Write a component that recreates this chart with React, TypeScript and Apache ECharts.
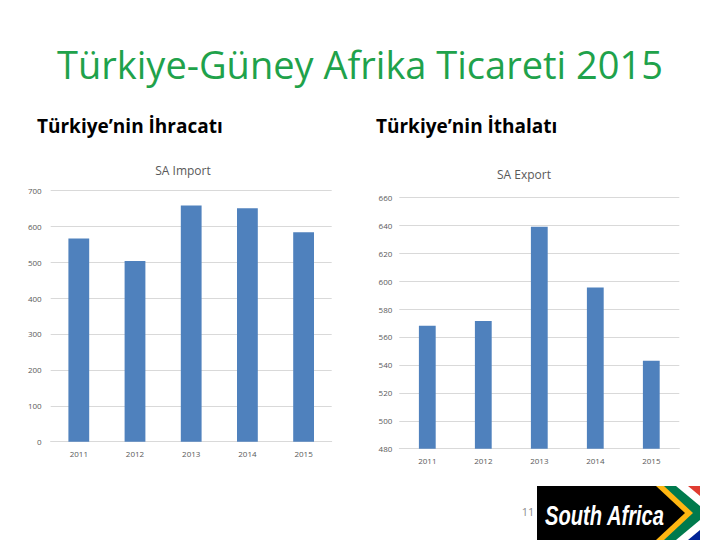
import React, { useEffect, useRef } from "react";
import * as echarts from "echarts";

const years = ["2011", "2012", "2013", "2014", "2015"];
const saImport = [566, 503, 658, 650, 583];
const saExport = [568, 571.5, 639, 595.5, 543];

const mainTitle = "Türkiye-Güney Afrika Ticareti 2015";
const leftHeading = "Türkiye’nin İhracatı";
const rightHeading = "Türkiye’nin İthalatı";
const leftChartTitle = "SA Import";
const rightChartTitle = "SA Export";
const pageNumber = "11";

const BAR = "#4F81BD";
const GRID = "#D9D9D9";
const LABEL = "#595959";

export default function App() {
  const ref = useRef<HTMLDivElement>(null);
  useEffect(() => {
    document.body.style.margin = "0";
    const chart = echarts.init(ref.current!, null, { renderer: "svg" });
    const axisLabel = { fontSize: 8, color: LABEL, fontFamily: "Open Sans" };
    chart.setOption({
      animation: false,
      backgroundColor: "#ffffff",
      title: [
        {
          text: mainTitle,
          left: "center",
          top: 40,
          textStyle: { fontSize: 38, fontWeight: "normal", color: "#1FA24B", fontFamily: "Open Sans" },
        },
        {
          text: leftHeading,
          left: 32,
          top: 111,
          textStyle: { fontSize: 19, fontWeight: "bold", color: "#000", fontFamily: "Open Sans" },
        },
        {
          text: rightHeading,
          left: 371,
          top: 111,
          textStyle: { fontSize: 19, fontWeight: "bold", color: "#000", fontFamily: "Open Sans" },
        },
      ],
      graphic: [
        { type: "text", x: 183, y: 170, style: { text: leftChartTitle, fill: LABEL, fontSize: 12, fontFamily: "Open Sans", align: "center", verticalAlign: "middle" } },
        { type: "text", x: 524, y: 174, style: { text: rightChartTitle, fill: LABEL, fontSize: 12, fontFamily: "Open Sans", align: "center", verticalAlign: "middle" } },
        { type: "text", x: 528, y: 511, style: { text: pageNumber, fill: "#8C8C8C", fontSize: 11, fontFamily: "Open Sans", align: "center", verticalAlign: "middle" } },
        {
          type: "group",
          children: [
            { type: "rect", shape: { x: 537, y: 486, width: 163, height: 54 }, style: { fill: "#ffffff" } },
            { type: "polygon", shape: { points: [[688, 486], [700, 486], [700, 496]] }, style: { fill: "#E03C31" } },
            { type: "polygon", shape: { points: [[688, 540], [700, 540], [700, 530]] }, style: { fill: "#002395" } },
            { type: "polygon", shape: { points: [[537, 486], [676, 486], [700, 506], [700, 520], [676, 540], [537, 540]] }, style: { fill: "#007A4D" } },
            { type: "polygon", shape: { points: [[537, 486], [664, 486], [693, 513], [664, 540], [537, 540]] }, style: { fill: "#FFB612" } },
            { type: "polygon", shape: { points: [[537, 486], [656, 486], [685, 513], [656, 540], [537, 540]] }, style: { fill: "#000000" } },
            {
              type: "text",
              x: 545,
              y: 515,
              scaleX: 0.72,
              style: { text: "South Africa", fill: "#ffffff", fontSize: 28, fontStyle: "italic", fontWeight: "bold", fontFamily: "Liberation Sans Narrow, Liberation Sans", verticalAlign: "middle" },
            },
          ],
        },
      ],
      grid: [
        { left: 50.7, right: 388.3, top: 190.3, bottom: 98.3 },
        { left: 399.3, right: 40.7, top: 197.3, bottom: 91.3 },
      ],
      xAxis: [
        {
          gridIndex: 0,
          type: "category",
          data: years,
          axisLine: { lineStyle: { color: GRID } },
          axisTick: { show: false },
          axisLabel: { ...axisLabel, margin: 8 },
        },
        {
          gridIndex: 1,
          type: "category",
          data: years,
          axisLine: { lineStyle: { color: GRID } },
          axisTick: { show: false },
          axisLabel: { ...axisLabel, margin: 8 },
        },
      ],
      yAxis: [
        {
          gridIndex: 0,
          type: "value",
          min: 0,
          max: 700,
          interval: 100,
          axisLine: { show: false },
          axisTick: { show: false },
          splitLine: { lineStyle: { color: GRID } },
          axisLabel: { ...axisLabel, margin: 9 },
        },
        {
          gridIndex: 1,
          type: "value",
          min: 480,
          max: 660,
          interval: 20,
          axisLine: { show: false },
          axisTick: { show: false },
          splitLine: { lineStyle: { color: GRID } },
          axisLabel: { ...axisLabel, margin: 7 },
        },
      ],
      series: [
        { type: "bar", xAxisIndex: 0, yAxisIndex: 0, data: saImport, barWidth: "37%", itemStyle: { color: BAR } },
        { type: "bar", xAxisIndex: 1, yAxisIndex: 1, data: saExport, barWidth: "30%", itemStyle: { color: BAR } },
      ],
    });
    return () => chart.dispose();
  }, []);
  return <div ref={ref} style={{ position: "fixed", left: 0, top: 0, width: 720, height: 540 }} />;
}
